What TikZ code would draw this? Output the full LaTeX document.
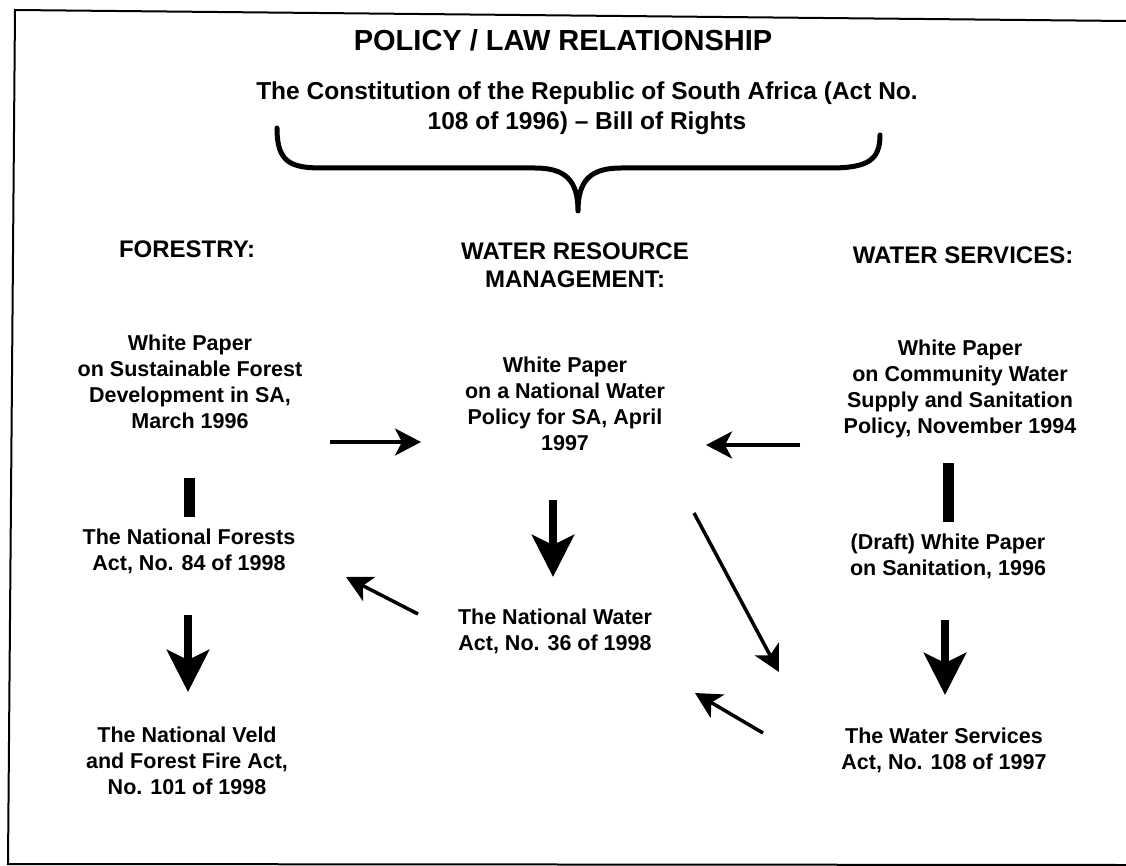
\documentclass[tikz,border=0pt]{standalone}
\usepackage{fontspec}
\setmainfont{Liberation Sans}
\usetikzlibrary{arrows.meta}
\tikzset{
  txt/.style={align=center, inner sep=0pt, font=\bfseries\fontsize{21.5}{26}\selectfont},
  hdr/.style={align=center, inner sep=0pt, font=\bfseries\fontsize{24}{28}\selectfont},
  ttl/.style={inner sep=0pt, font=\bfseries\fontsize{29}{34}\selectfont},
  cst/.style={align=center, inner sep=0pt, font=\bfseries\fontsize{24.5}{30}\selectfont},
  slimarrow/.style={line width=3.5pt, -{Stealth[length=26pt,width=27pt,inset=7pt]}},
  bigarrow/.style={line width=8pt, -{Stealth[length=42pt,width=42pt,inset=10pt]}},
  barline/.style={line width=11pt},
  framing/.style={line width=2pt},
  bracestyle/.style={line width=5pt, line cap=round, line join=round},
}
\begin{document}
\begin{tikzpicture}[x=1pt,y=-1pt]
\useasboundingbox (0,0) rectangle (1126,866);
\fill[white] (0,0) rectangle (1126,866);
% frame
\coordinate (ftl) at (15,10);
\coordinate (ftr) at (1126,21);
\coordinate (fbl) at (8,864);
\coordinate (fbr) at (1126,865);
\draw[framing] (ftr) -- (ftl) -- (fbl) -- (fbr);

% title and constitution
\node[ttl] (title) at (563,40) {POLICY / LAW RELATIONSHIP};
\node[cst] (const) at (587,108) {The Constitution of the Republic of South Africa (Act No.\\108 of 1996) -- Bill of Rights};

% brace
\coordinate (bl) at (277,128);
\coordinate (bm) at (578,211);
\coordinate (br) at (880,135);
\draw[bracestyle] (bl) .. controls (277,162) and (290,168) .. (322,168) -- (535,168)
  .. controls (565,168) and (578,180) .. (bm)
  .. controls (578,180) and (591,168) .. (621,168) -- (830,168)
  .. controls (868,168) and (880,160) .. (br);

% headers
\node[hdr] (hf) at (187,249) {FORESTRY:};
\node[hdr] (hw) at (575,265) {WATER RESOURCE\\MANAGEMENT:};
\node[hdr] (hs) at (963,255) {WATER SERVICES:};

% forestry column
\node[txt] (fwp) at (190,382) {White Paper\\on Sustainable Forest\\Development in SA,\\March 1996};
\node[txt] (fact) at (189,551) {The National Forests\\Act, No. 84 of 1998};
\node[txt] (veld) at (187,761) {The National Veld\\and Forest Fire Act,\\No. 101 of 1998};

% water resource column
\node[txt] (wwp) at (565,404) {White Paper\\on a National Water\\Policy for SA, April\\1997};
\node[txt] (wact) at (555,631) {The National Water\\Act, No. 36 of 1998};

% water services column
\node[txt] (swp) at (960,389) {White Paper\\on Community Water\\Supply and Sanitation\\Policy, November 1994};
\node[txt] (sdraft) at (948,556) {(Draft) White Paper\\on Sanitation, 1996};
\node[txt] (sact) at (944,750) {The Water Services\\Act, No. 108 of 1997};

% connector end points
\coordinate (a1s) at (330,442); \coordinate (a1e) at (421,442);
\coordinate (a2s) at (800,445); \coordinate (a2e) at (706,445);
\coordinate (b1s) at (189.5,478); \coordinate (b1e) at (189.5,517);
\coordinate (b2s) at (948.5,463); \coordinate (b2e) at (948.5,522);
\coordinate (d1s) at (188,615); \coordinate (d1e) at (188,692);
\coordinate (d2s) at (553,500); \coordinate (d2e) at (553,577);
\coordinate (d3s) at (945,620); \coordinate (d3e) at (945,695);
\coordinate (n1s) at (418,614); \coordinate (n1e) at (346,577);
\coordinate (n2s) at (763,733); \coordinate (n2e) at (695,693);
\coordinate (g1s) at (694,513); \coordinate (g1e) at (779,672);

\draw[slimarrow] (a1s) -- (a1e);
\draw[slimarrow] (a2s) -- (a2e);
\draw[barline] (b1s) -- (b1e);
\draw[barline] (b2s) -- (b2e);
\draw[bigarrow] (d1s) -- (d1e);
\draw[bigarrow] (d2s) -- (d2e);
\draw[bigarrow] (d3s) -- (d3e);
\draw[slimarrow] (n1s) -- (n1e);
\draw[slimarrow] (n2s) -- (n2e);
\draw[slimarrow] (g1s) -- (g1e);
\end{tikzpicture}
\end{document}
